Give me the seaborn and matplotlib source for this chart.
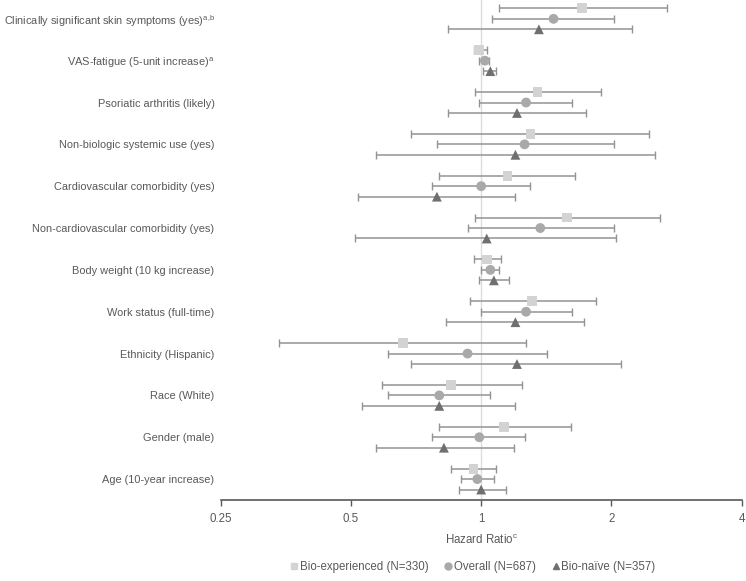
import numpy as np
import pandas as pd
import matplotlib
matplotlib.use("Agg")
import matplotlib.pyplot as plt
import seaborn as sns

# row labels, top to bottom
labels = [
    "Clinically significant skin symptoms (yes)$^\\mathregular{a{,}b}$",
    "VAS-fatigue (5-unit increase)$^\\mathregular{a}$",
    "Psoriatic arthritis (likely)",
    "Non-biologic systemic use (yes)",
    "Cardiovascular comorbidity (yes)",
    "Non-cardiovascular comorbidity (yes)",
    "Body weight (10 kg increase)",
    "Work status (full-time)",
    "Ethnicity (Hispanic)",
    "Race (White)",
    "Gender (male)",
    "Age (10-year increase)",
]

groups = ["Bio-experienced (N=330)", "Overall (N=687)", "Bio-naïve (N=357)"]

exp_hr = [1.71, 0.99, 1.35, 1.30, 1.15, 1.58, 1.03, 1.31, 0.66, 0.85, 1.13, 0.96]
exp_lo = [1.10, 0.96, 0.97, 0.69, 0.80, 0.97, 0.96, 0.94, 0.34, 0.59, 0.80, 0.85]
exp_hi = [2.69, 1.03, 1.89, 2.44, 1.65, 2.59, 1.11, 1.84, 1.27, 1.24, 1.61, 1.08]

all_hr = [1.47, 1.02, 1.27, 1.26, 1.00, 1.37, 1.05, 1.27, 0.93, 0.80, 0.99, 0.98]
all_lo = [1.06, 0.99, 0.99, 0.79, 0.77, 0.93, 1.00, 1.00, 0.61, 0.61, 0.77, 0.90]
all_hi = [2.03, 1.04, 1.62, 2.03, 1.30, 2.03, 1.10, 1.62, 1.42, 1.05, 1.26, 1.07]

nai_hr = [1.36, 1.05, 1.21, 1.20, 0.79, 1.03, 1.07, 1.20, 1.21, 0.80, 0.82, 1.00]
nai_lo = [0.84, 1.01, 0.84, 0.57, 0.52, 0.51, 0.99, 0.83, 0.69, 0.53, 0.57, 0.89]
nai_hi = [2.23, 1.08, 1.75, 2.52, 1.20, 2.05, 1.16, 1.73, 2.11, 1.20, 1.19, 1.14]

xticks = [0.25, 0.5, 1, 2, 4]
xtick_labels = ["0.25", "0.5", "1", "2", "4"]

sns.set_theme(style="white")
plt.rcParams["font.family"] = ["Liberation Sans", "DejaVu Sans"]
plt.rcParams["mathtext.fontset"] = "custom"
plt.rcParams["mathtext.rm"] = "Liberation Sans"

fs = 8.3
text_col = "#595959"
colors = {groups[0]: "#d3d3d3", groups[1]: "#a9a9a9", groups[2]: "#6f6f6f"}
markers = {groups[0]: "s", groups[1]: "o", groups[2]: "^"}
offsets = {groups[0]: -0.25, groups[1]: 0.0, groups[2]: 0.25}

rows = []
for g, hr, lo, hi in zip(groups, [exp_hr, all_hr, nai_hr],
                         [exp_lo, all_lo, nai_lo], [exp_hi, all_hi, nai_hi]):
    for i, lab in enumerate(labels):
        rows.append({"label": lab, "group": g, "hr": hr[i], "lo": lo[i],
                     "hi": hi[i], "y": i + offsets[g]})
df = pd.DataFrame(rows)

fig = plt.figure(figsize=(7.46, 5.81), dpi=100)
ax = fig.add_axes([0.296, 0.1394, 0.698, 0.8606])

ax.axvline(1, color="#dcdcdc", lw=1, zorder=0)

for g in groups:
    d = df[df["group"] == g]
    ax.errorbar(d["hr"], d["y"], xerr=[d["hr"] - d["lo"], d["hi"] - d["hr"]],
                fmt="none", ecolor="#939393", elinewidth=1.1, capsize=3,
                capthick=1.0, zorder=1)

sns.scatterplot(data=df, x="hr", y="y", hue="group", style="group",
                palette=colors, markers=markers, s=50, linewidth=0,
                ax=ax, zorder=3, legend=False)

ax.set_xscale("log", base=2)
ax.set_xlim(0.25, 4)
ax.set_xticks(xticks)
ax.set_xticklabels(xtick_labels)
ax.minorticks_off()
ax.set_ylim(11.5, -0.45)
ax.set_yticks(range(len(labels)))
ax.set_yticklabels(labels)

for s in ["top", "right", "left"]:
    ax.spines[s].set_visible(False)
ax.spines["bottom"].set_color(text_col)
ax.spines["bottom"].set_linewidth(1.2)
ax.tick_params(axis="x", bottom=True, length=4, width=1, color=text_col,
               labelsize=fs, labelcolor=text_col, pad=5)
ax.tick_params(axis="y", left=False, length=0, labelsize=7.9,
               labelcolor=text_col, pad=4.5)
ax.set_xlabel("Hazard Ratio$^\\mathregular{c}$", fontsize=fs, color=text_col,
              labelpad=6)
ax.set_ylabel("")

handles = [plt.Line2D([], [], ls="none", marker=markers[g], color=colors[g],
                      markersize=5) for g in groups]
fig.legend(handles, groups, loc="center", ncol=3, frameon=False,
           bbox_to_anchor=(472 / 746, 1 - 567 / 581), fontsize=fs,
           handletextpad=0.0, columnspacing=1.2, labelcolor=text_col,
           handlelength=1.0)

fig.savefig("out.png", dpi=100)
